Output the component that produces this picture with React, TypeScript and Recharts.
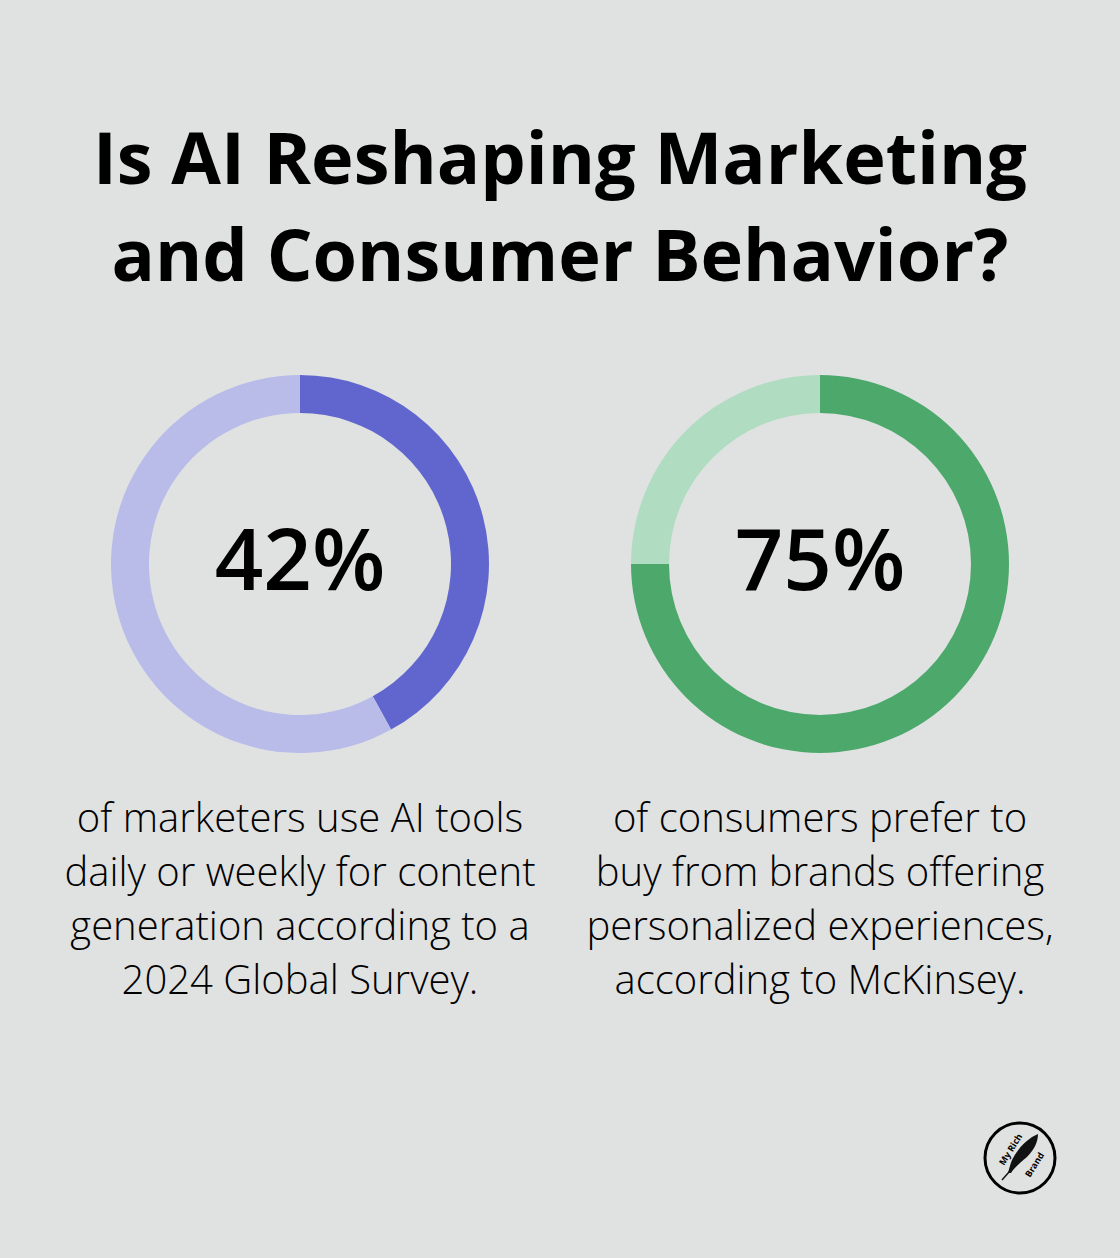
import React from "react";
import { PieChart, Pie, Cell, Label } from "recharts";

const titleLines = ["Is AI Reshaping Marketing", "and Consumer Behavior?"];
const statLabels = ["42%", "75%"];
const leftValues = [42, 58];
const rightValues = [75, 25];
const leftColors = ["#6166CF", "#B9BCE9"];
const rightColors = ["#4DA86C", "#B0DCC2"];
const leftText = [
  "of marketers use AI tools",
  "daily or weekly for content",
  "generation according to a",
  "2024 Global Survey.",
];
const rightText = [
  "of consumers prefer to",
  "buy from brands offering",
  "personalized experiences,",
  "according to McKinsey.",
];

const FONT = "'Open Sans', sans-serif";
const BG = "#E0E2E1";
const CY = 564;
const LEFT_CX = 300;
const RIGHT_CX = 820;

const toData = (vals: number[]) => vals.map((v, i) => ({ name: String(i), value: v }));

function CenterLabel({ cx, cy, text }: { cx: number; cy: number; text: string }) {
  return (
    <text
      x={cx}
      y={cy + 26}
      textAnchor="middle"
      fontFamily={FONT}
      fontSize={85}
      fontWeight={600}
      fill="#000"
    >
      {text}
    </text>
  );
}

function Desc({ lines, cx }: { lines: string[]; cx: number }) {
  return (
    <div
      style={{
        position: "absolute",
        left: cx - 270,
        width: 540,
        top: 790,
        textAlign: "center",
        fontFamily: FONT,
        fontWeight: 300,
        fontSize: 40,
        lineHeight: "54px",
        color: "#000",
        whiteSpace: "nowrap",
      }}
    >
      {lines.map((l, i) => (
        <div key={i}>{l}</div>
      ))}
    </div>
  );
}

export default function App() {
  return (
    <div
      style={{
        position: "fixed",
        left: 0,
        top: 0,
        width: 1120,
        height: 1258,
        background: BG,
        overflow: "hidden",
      }}
    >
      <div
        style={{
          position: "absolute",
          left: 0,
          width: 1120,
          top: 108,
          textAlign: "center",
          fontFamily: FONT,
          fontWeight: 700,
          fontSize: 72,
          lineHeight: "97px",
          color: "#000",
          whiteSpace: "nowrap",
        }}
      >
        {titleLines.map((l, i) => (
          <div key={i}>{l}</div>
        ))}
      </div>
      <div style={{ position: "absolute", left: 0, top: 0 }}>
        <PieChart width={1120} height={1258} margin={{ top: 0, right: 0, bottom: 0, left: 0 }}>
          <Pie
            data={toData(leftValues)}
            dataKey="value"
            cx={LEFT_CX}
            cy={CY}
            innerRadius={151}
            outerRadius={189}
            startAngle={90}
            endAngle={-270}
            stroke="none"
            isAnimationActive={false}
          >
            {leftValues.map((_, i) => (
              <Cell key={i} fill={leftColors[i]} />
            ))}
            <Label
              position="center"
              content={() => <CenterLabel cx={LEFT_CX} cy={CY} text={statLabels[0]} />}
            />
          </Pie>
          <Pie
            data={toData(rightValues)}
            dataKey="value"
            cx={RIGHT_CX}
            cy={CY}
            innerRadius={151}
            outerRadius={189}
            startAngle={90}
            endAngle={-270}
            stroke="none"
            isAnimationActive={false}
          >
            {rightValues.map((_, i) => (
              <Cell key={i} fill={rightColors[i]} />
            ))}
            <Label
              position="center"
              content={() => <CenterLabel cx={RIGHT_CX} cy={CY} text={statLabels[1]} />}
            />
          </Pie>
        </PieChart>
      </div>
      <Desc lines={leftText} cx={LEFT_CX} />
      <Desc lines={rightText} cx={RIGHT_CX} />
      <svg
        width={80}
        height={80}
        style={{ position: "absolute", left: 980, top: 1118 }}
        viewBox="0 0 80 80"
      >
        <circle cx={40} cy={40} r={35} fill="none" stroke="#000" strokeWidth={3} />
        <path
          d="M58 16 C48 20 38 30 32 42 C30 47 29 51 28 55 L31 55 C34 50 40 45 47 39 C54 32 58 24 58 16 Z"
          fill="#111"
        />
        <path d="M22 62 L36 46" stroke="#111" strokeWidth={1.5} />
        <text
          x={0}
          y={0}
          fontFamily={FONT}
          fontWeight={700}
          fontSize={9}
          fill="#000"
          transform="translate(24 48) rotate(-58)"
        >
          My Rich
        </text>
        <text
          x={0}
          y={0}
          fontFamily={FONT}
          fontWeight={700}
          fontSize={9}
          fill="#000"
          transform="translate(50 60) rotate(-58)"
        >
          Brand
        </text>
      </svg>
    </div>
  );
}
